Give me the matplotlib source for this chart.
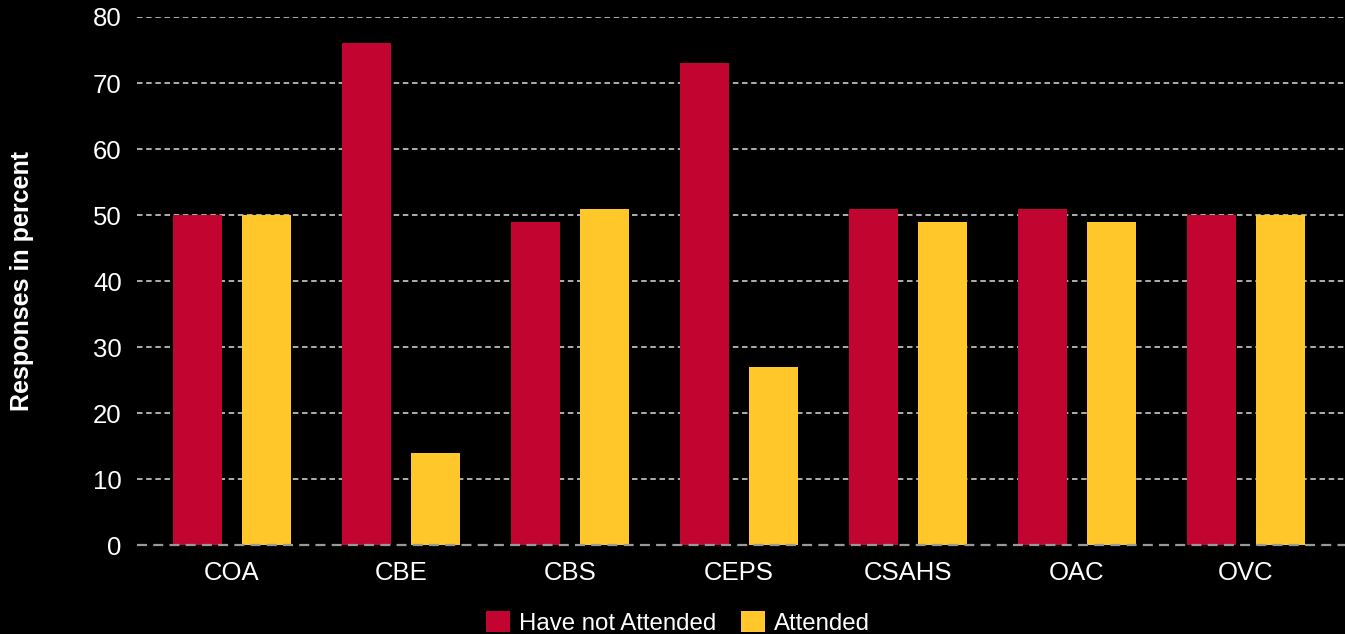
import matplotlib
matplotlib.use("Agg")
import matplotlib.pyplot as plt
from matplotlib.patches import Patch
import numpy as np

categories = ["COA", "CBE", "CBS", "CEPS", "CSAHS", "OAC", "OVC"]
have_not_attended = [50, 76, 49, 73, 51, 51, 50]
attended = [50, 14, 51, 27, 49, 49, 50]
series_names = ["Have not Attended", "Attended"]
yticks = [0, 10, 20, 30, 40, 50, 60, 70, 80]

RED = "#C20430"
YELLOW = "#FFC72A"
FONT = ["Liberation Sans", "DejaVu Sans"]
plt.rcParams["font.family"] = FONT

fig = plt.figure(figsize=(13.45, 6.34), dpi=100, facecolor="black")
ax = fig.add_axes([137 / 1345, 1 - 546 / 634, 1 - 137 / 1345, (546 - 17) / 634])
ax.set_facecolor("black")

x = np.arange(len(categories))
w = 0.29
off = 0.204
ax.bar(x - off, have_not_attended, w, color=RED, zorder=3)
ax.bar(x + off, attended, w, color=YELLOW, zorder=3)

ax.set_xlim(-0.562, 6.586)
ax.set_ylim(-0.1, 79.9)
ax.set_yticks(yticks)
for t in yticks[1:]:
    ax.axhline(t, color="#dddddd", lw=1.1, ls=(0, (3.6, 2.4)), zorder=1)
ax.axhline(0, color="#999999", lw=1.6, ls=(0, (4.5, 2.8)), zorder=4, clip_on=False)

for s in ax.spines.values():
    s.set_visible(False)
ax.set_xticks(x)
ax.set_xticklabels(categories)
ax.tick_params(axis="both", length=0, colors="white", labelsize=18.5)
ax.tick_params(axis="y", pad=11)
ax.tick_params(axis="x", pad=11)

fig.text(0.0165, 1 - 281 / 634, "Responses in percent", rotation=90, color="white",
         fontsize=18, fontweight="bold", ha="center", va="center")

handles = [Patch(facecolor=RED, edgecolor="none"), Patch(facecolor=YELLOW, edgecolor="none")]
leg = fig.legend(handles, series_names, loc="upper center", bbox_to_anchor=(0.504, 0.037),
                 ncol=2, frameon=False, fontsize=17.3, handlelength=1.0, handleheight=1.0,
                 handletextpad=0.4, columnspacing=1.0, borderpad=0, borderaxespad=0)
for t in leg.get_texts():
    t.set_color("white")

fig.savefig("out.png", dpi=100, facecolor="black")
